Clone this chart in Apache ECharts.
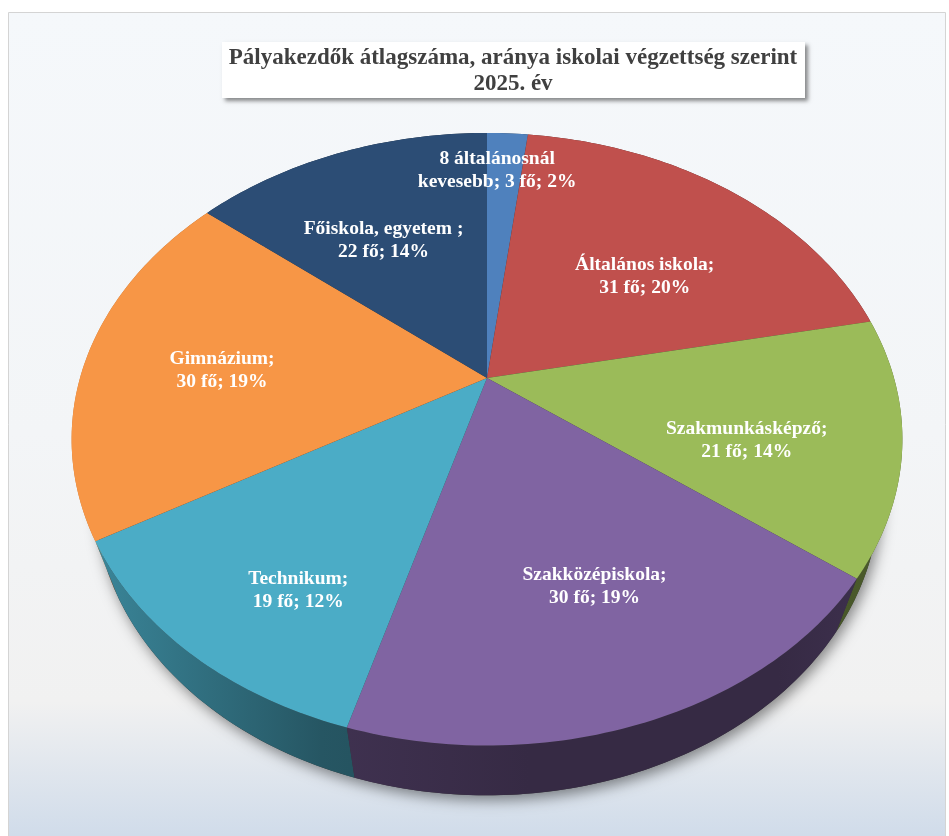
<!DOCTYPE html>
<html>
<head>
    <meta charset="utf-8">
    <title>Pályakezdők átlagszáma</title>
    <script src="https://cdn.jsdelivr.net/npm/echarts@6.0.0/dist/echarts.min.js"></script>
    <style>
        html, body { margin: 0; padding: 0; background: #fff; }
        #main { width: 949px; height: 836px; }
    </style>
</head>
<body>
    <div id="main"></div>
    <script type="text/javascript">
        // adatok
        var categories = ['8 általánosnál\nkevesebb', 'Általános iskola', 'Szakmunkásképző', 'Szakközépiskola',
            'Technikum', 'Gimnázium', 'Főiskola, egyetem '];
        var values = [3, 31, 21, 30, 19, 30, 22];
        var percents = [2, 20, 14, 19, 12, 19, 14];
        var colors = ['#4f81bd', '#c0504d', '#9bbb59', '#8064a2', '#4bacc6', '#f79646', '#2c4d75'];

        // 3D torta geometria
        var CX = 487, CY = 378, RX = 407, BY = 294, K = 0.2, SQ = 0.945, DEPTH = 56;
        // címkék eltolása a szelet közepéhez képest
        var labelShift = [[-4, -39], [-6, 27], [-6, 19], [12, 2], [-7, 45], [-4, 8], [-2, 17]];

        var total = values.reduce(function (a, b) { return a + b; }, 0);
        var starts = [];
        var acc = 0;
        values.forEach(function (v) { starts.push(acc); acc += v; });

        function proj(r, ang, bottom) {
            var X = r * Math.sin(ang), Z = -r * Math.cos(ang);
            var w = 1 - K * Z;
            var x = CX + RX * X / w, y = CY + BY * Z / w;
            if (bottom) {
                x = CX + (x - CX) * SQ;
                y = CY + (y - CY) * SQ + DEPTH / w;
            }
            return [x, y];
        }

        function arc(a1, a2, bottom) {
            var pts = [];
            var n = Math.max(2, Math.ceil((a2 - a1) / (Math.PI / 180)));
            for (var i = 0; i <= n; i++) {
                pts.push(proj(1, a1 + (a2 - a1) * i / n, bottom));
            }
            return pts;
        }

        function shade(hex, f) {
            var r = parseInt(hex.substr(1, 2), 16), g = parseInt(hex.substr(3, 2), 16), b = parseInt(hex.substr(5, 2), 16);
            return 'rgb(' + Math.round(r * f) + ',' + Math.round(g * f) + ',' + Math.round(b * f) + ')';
        }

        function sideFill(hex) {
            return new echarts.graphic.LinearGradient(72, 0, 903, 0, [
                { offset: 0, color: shade(hex, 0.8) },
                { offset: 0.3, color: shade(hex, 0.5) },
                { offset: 0.55, color: shade(hex, 0.42) },
                { offset: 0.85, color: shade(hex, 0.42) },
                { offset: 1, color: shade(hex, 0.5) }
            ], true);
        }

        function renderItem(params, api) {
            var i = params.dataIndex;
            var v = api.value(0);
            var a1 = starts[i] / total * Math.PI * 2;
            var a2 = (starts[i] + v) / total * Math.PI * 2;
            var mid = (a1 + a2) / 2;

            var top = arc(a1, a2, false);
            var side = top.concat(arc(a1, a2, true).reverse());
            var lp = proj(0.65, mid, false);
            var name = categories[i];
            var text = name.indexOf('\n') >= 0
                ? name + '; ' + v + ' fő; ' + percents[i] + '%'
                : name + ';\n' + v + ' fő; ' + percents[i] + '%';

            var children = [];
            if (i === 0) {
                // árnyék az alsó perem alatt
                children.push({
                    type: 'polygon',
                    shape: { points: arc(0, Math.PI * 2, true) },
                    style: { fill: '#333', shadowBlur: 14, shadowOffsetX: 3, shadowOffsetY: 5, shadowColor: 'rgba(0,0,0,0.45)' },
                    z2: 1
                });
            }
            children.push({
                type: 'polygon',
                shape: { points: side },
                style: { fill: sideFill(colors[i]) },
                z2: 20 + Math.round(-Math.cos(mid) * 10)
            });
            children.push({
                type: 'polygon',
                shape: { points: [[CX, CY]].concat(top) },
                style: { fill: colors[i] },
                z2: 50
            });
            children.push({
                type: 'text',
                style: {
                    text: text,
                    x: lp[0] + labelShift[i][0],
                    y: lp[1] + labelShift[i][1],
                    fill: '#ffffff',
                    fontFamily: 'Liberation Serif',
                    fontWeight: 'bold',
                    fontSize: 19.5,
                    lineHeight: 23,
                    align: 'center',
                    verticalAlign: 'middle'
                },
                z2: 60
            });
            return { type: 'group', children: children };
        }

        var chart = echarts.init(document.getElementById('main'));
        var option = {
            animation: false,
            graphic: [
                {
                    type: 'rect',
                    shape: { x: 8.5, y: 12.5, width: 937, height: 840 },
                    style: {
                        stroke: '#d4d4d4',
                        lineWidth: 1,
                        fill: new echarts.graphic.LinearGradient(0, 0, 0, 1, [
                            { offset: 0, color: '#f5f8fb' },
                            { offset: 0.5, color: '#f3f5f7' },
                            { offset: 0.82, color: '#f1f1f1' },
                            { offset: 1, color: '#ccd9e9' }
                        ])
                    },
                    z: -10
                },
                {
                    type: 'rect',
                    shape: { x: 222, y: 42, width: 583, height: 56 },
                    style: {
                        fill: '#ffffff',
                        shadowBlur: 4,
                        shadowOffsetX: 3,
                        shadowOffsetY: 3,
                        shadowColor: 'rgba(0,0,0,0.45)'
                    },
                    z: 10
                },
                {
                    type: 'text',
                    style: {
                        text: 'Pályakezdők átlagszáma, aránya iskolai végzettség szerint\n2025. év',
                        x: 513,
                        y: 71,
                        fill: '#404040',
                        fontFamily: 'Liberation Serif',
                        fontWeight: 'bold',
                        fontSize: 23,
                        lineHeight: 26,
                        align: 'center',
                        verticalAlign: 'middle'
                    },
                    z: 11
                }
            ],
            series: [
                {
                    type: 'custom',
                    coordinateSystem: 'none',
                    renderItem: renderItem,
                    data: values.map(function (v, i) { return { name: categories[i], value: v }; })
                }
            ]
        };
        chart.setOption(option);
    </script>
</body>
</html>
